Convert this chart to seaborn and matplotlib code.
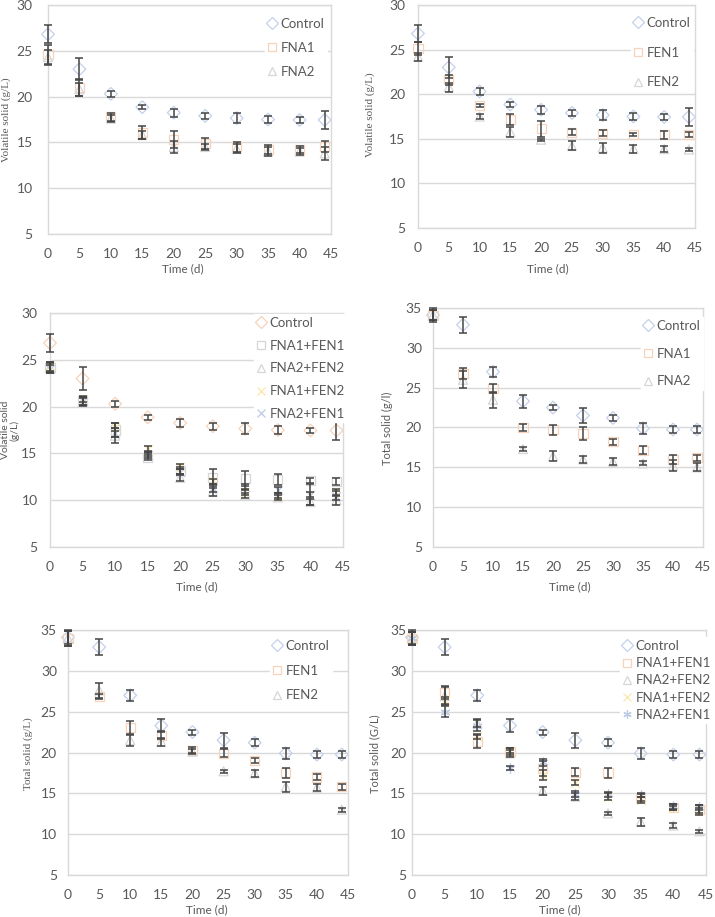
import matplotlib
matplotlib.use("Agg")
import matplotlib.pyplot as plt
import seaborn as sns
import pandas as pd
from matplotlib.lines import Line2D

# ---------------- data ----------------
DAYS = [0, 5, 10, 15, 20, 25, 30, 35, 40, 44]
X_TICKS = [0, 5, 10, 15, 20, 25, 30, 35, 40, 45]
VS_TICKS = [5, 10, 15, 20, 25, 30]
TS_TICKS = [5, 10, 15, 20, 25, 30, 35]

# Volatile solid (g/L)
vs_control = [26.8, 23.0, 20.3, 18.85, 18.25, 17.9, 17.65, 17.5, 17.45, 17.45]
vs_control_err = [1.0, 1.2, 0.35, 0.25, 0.45, 0.35, 0.55, 0.4, 0.3, 1.0]
vs_fna1 = [24.6, 21.0, 17.8, 16.1, 15.3, 14.9, 14.5, 14.2, 14.2, 14.6]
vs_fna1_err = [1.0, 0.9, 0.45, 0.7, 0.9, 0.6, 0.5, 0.5, 0.4, 0.6]
vs_fna2 = [24.3, 20.8, 17.6, 15.8, 14.5, 14.5, 14.3, 14.0, 14.0, 13.8]
vs_fna2_err = [0.8, 0.7, 0.4, 0.4, 0.7, 0.3, 0.5, 0.5, 0.4, 0.7]
vs_fen1 = [25.1, 21.6, 18.75, 17.15, 16.1, 15.75, 15.65, 15.45, 15.45, 15.45]
vs_fen1_err = [0.7, 0.6, 0.2, 0.6, 0.9, 0.3, 0.3, 0.15, 0.45, 0.3]
vs_fen2 = [24.2, 20.8, 17.5, 15.75, 14.9, 14.2, 14.0, 13.9, 13.85, 13.8]
vs_fen2_err = [0.45, 0.5, 0.3, 0.55, 0.1, 0.5, 0.55, 0.45, 0.3, 0.2]
vs_fna1_fen1 = [24.2, 20.6, 17.5, 14.6, 13.2, 12.4, 12.3, 12.2, 12.1, 12.0]
vs_fna1_fen1_err = [0.6, 0.4, 0.7, 0.3, 0.4, 0.9, 0.8, 0.6, 0.25, 0.4]
vs_fna2_fen2 = [24.2, 20.5, 16.9, 15.0, 12.4, 10.9, 10.5, 10.3, 9.8, 10.0]
vs_fna2_fen2_err = [0.5, 0.4, 0.8, 0.3, 0.4, 0.4, 0.3, 0.3, 0.3, 0.5]
vs_fna1_fen2 = [24.3, 20.8, 17.8, 15.5, 13.6, 12.0, 10.9, 10.5, 10.6, 10.9]
vs_fna1_fen2_err = [0.5, 0.3, 0.4, 0.3, 0.3, 0.3, 0.3, 0.3, 0.3, 0.3]
vs_fna2_fen1 = [24.0, 20.6, 17.2, 14.8, 13.0, 11.3, 11.4, 11.1, 10.6, 10.5]
vs_fna2_fen1_err = [0.4, 0.4, 0.5, 0.3, 0.3, 0.4, 0.3, 0.3, 1.1, 0.5]

# Total solid (g/L)
ts_control = [34.1, 32.9, 27.0, 23.3, 22.5, 21.5, 21.2, 19.9, 19.75, 19.75]
ts_control_err = [0.85, 1.0, 0.65, 0.8, 0.3, 0.9, 0.4, 0.7, 0.4, 0.4]
ts_fna1 = [34.1, 26.8, 24.9, 20.0, 19.7, 19.2, 18.2, 17.15, 16.0, 16.2]
ts_fna1_err = [0.6, 0.7, 0.6, 0.4, 0.6, 0.8, 0.4, 0.5, 0.6, 0.4]
ts_fna2 = [34.1, 26.0, 23.5, 17.3, 16.4, 16.0, 15.7, 15.5, 15.2, 15.0]
ts_fna2_err = [0.6, 1.1, 1.0, 0.3, 0.6, 0.4, 0.45, 0.25, 0.7, 0.5]
ts_fen1 = [34.0, 26.9, 23.1, 22.1, 20.3, 19.9, 19.0, 17.5, 17.0, 15.8]
ts_fen1_err = [0.9, 0.3, 0.8, 0.5, 0.35, 0.5, 0.3, 0.6, 0.4, 0.4]
ts_fen2 = [34.0, 27.6, 21.5, 21.3, 20.1, 17.7, 17.45, 15.8, 15.7, 13.0]
ts_fen2_err = [0.9, 0.9, 0.7, 0.5, 0.3, 0.2, 0.4, 0.6, 0.4, 0.25]
ts_fna1_fen1 = [34.0, 27.3, 21.3, 20.1, 18.0, 17.6, 17.5, 14.5, 13.3, 13.0]
ts_fna1_fen1_err = [0.8, 0.8, 0.8, 0.4, 0.9, 0.5, 0.6, 0.4, 0.4, 0.6]
ts_fna2_fen2 = [34.0, 26.9, 23.6, 19.9, 15.3, 14.6, 12.55, 11.5, 11.05, 10.35]
ts_fna2_fen2_err = [0.8, 1.1, 0.5, 0.4, 0.5, 0.4, 0.2, 0.5, 0.35, 0.2]
ts_fna1_fen2 = [34.0, 26.4, 22.0, 20.2, 17.2, 16.3, 14.6, 14.2, 13.2, 12.9]
ts_fna1_fen2_err = [0.8, 0.4, 0.3, 0.3, 0.6, 0.3, 0.4, 0.4, 0.3, 0.3]
ts_fna2_fen1 = [34.0, 25.0, 23.3, 18.1, 18.8, 14.9, 14.9, 14.8, 13.4, 13.3]
ts_fna2_fen1_err = [0.8, 0.7, 0.7, 0.3, 0.4, 0.4, 0.3, 0.3, 0.3, 0.3]

# ---------------- styling ----------------
PALE_BLUE = "#c4d1ea"
PALE_ORANGE = "#f7d3bb"
PALE_GRAY = "#d6d6d6"
PALE_YELLOW = "#fce6a8"
PALE_BLUE2 = "#bccae4"
TXT = "#595959"
ERR = "#454545"
GRID = "#d9d9d9"

sns.set_style("white")
plt.rcParams["font.family"] = ["Lato", "DejaVu Sans"]

W, H = 715, 917
fig = plt.figure(figsize=(W / 100, H / 100), dpi=100)


def fx(px):
    return px / W


def fy(py):
    return 1 - py / H


panels = [
    dict(box=(48, 5, 331, 234), ylim=(5, 30), yticks=VS_TICKS,
         ylabel="Volatile solid (g/L)", yl_font="serif", yl_xy=(6, 120),
         xl_xy=(183, 269), ypad=11, yl_fs=8,
         series=[("Control", vs_control, vs_control_err, "D", PALE_BLUE),
                 ("FNA1", vs_fna1, vs_fna1_err, "s", PALE_ORANGE),
                 ("FNA2", vs_fna2, vs_fna2_err, "^", PALE_GRAY)],
         leg=(272, 22), lsp=0.89),
    dict(box=(418, 5, 695, 228), ylim=(5, 30), yticks=VS_TICKS,
         ylabel="Volatile solid (g/L)", yl_font="serif", yl_xy=(370, 115),
         xl_xy=(548, 269), ypad=9, yl_fs=8,
         series=[("Control", vs_control, vs_control_err, "D", PALE_BLUE),
                 ("FEN1", vs_fen1, vs_fen1_err, "s", PALE_ORANGE),
                 ("FEN2", vs_fen2, vs_fen2_err, "^", PALE_GRAY)],
         leg=(638, 21), lsp=1.34),
    dict(box=(50, 313, 343, 547), ylim=(5, 30), yticks=VS_TICKS,
         ylabel="Volatile solid\n(g/L)", yl_font="sans", yl_xy=(10.5, 430),
         xl_xy=(197, 587), ypad=9, yl_fs=7.5,
         series=[("Control", vs_control, vs_control_err, "D", PALE_ORANGE),
                 ("FNA1+FEN1", vs_fna1_fen1, vs_fna1_fen1_err, "s", PALE_GRAY),
                 ("FNA2+FEN2", vs_fna2_fen2, vs_fna2_fen2_err, "^", PALE_GRAY),
                 ("FNA1+FEN2", vs_fna1_fen2, vs_fna1_fen2_err, "x", PALE_YELLOW),
                 ("FNA2+FEN1", vs_fna2_fen1, vs_fna2_fen1_err, "x", PALE_BLUE2)],
         leg=(261, 321), lsp=0.81),
    dict(box=(433, 308, 703, 547), ylim=(5, 35), yticks=TS_TICKS,
         ylabel="Total solid (g/l)", yl_font="sans", yl_xy=(387, 428),
         xl_xy=(570, 587), ypad=8, yl_fs=8,
         series=[("Control", ts_control, ts_control_err, "D", PALE_BLUE),
                 ("FNA1", ts_fna1, ts_fna1_err, "s", PALE_ORANGE),
                 ("FNA2", ts_fna2, ts_fna2_err, "^", PALE_GRAY)],
         leg=(648, 324), lsp=1.19),
    dict(box=(68, 630, 348, 875), ylim=(5, 35), yticks=TS_TICKS,
         ylabel="Total solid (g/L)", yl_font="serif", yl_xy=(28, 754),
         xl_xy=(207, 910), ypad=8, yl_fs=8,
         series=[("Control", ts_control, ts_control_err, "D", PALE_BLUE),
                 ("FEN1", ts_fen1, ts_fen1_err, "s", PALE_ORANGE),
                 ("FEN2", ts_fen2, ts_fen2_err, "^", PALE_GRAY)],
         leg=(277, 644), lsp=0.96),
    dict(box=(412, 630, 706, 875), ylim=(5, 35), yticks=TS_TICKS,
         ylabel="Total solid (G/L)", yl_font="sans", yl_xy=(375, 754),
         xl_xy=(560, 910), ypad=4, yl_fs=8,
         series=[("Control", ts_control, ts_control_err, "D", PALE_BLUE),
                 ("FNA1+FEN1", ts_fna1_fen1, ts_fna1_fen1_err, "s", PALE_ORANGE),
                 ("FNA2+FEN2", ts_fna2_fen2, ts_fna2_fen2_err, "^", PALE_GRAY),
                 ("FNA1+FEN2", ts_fna1_fen2, ts_fna1_fen2_err, "x", PALE_YELLOW),
                 ("FNA2+FEN1", ts_fna2_fen1, ts_fna2_fen1_err, (6, 2, 0), PALE_BLUE2)],
         leg=(627, 644), lsp=0.39),
]

LEG_FS = 9.5
for p in panels:
    l, t, r, b = p["box"]
    ax = fig.add_axes([fx(l), fy(b), fx(r - l), (b - t) / H])
    handles = []
    for name, vals, errs, mk, col in p["series"]:
        df = pd.DataFrame({"day": DAYS, "value": vals})
        sns.scatterplot(data=df, x="day", y="value", marker=mk, s=42,
                        color=col, ax=ax, zorder=2, clip_on=False, legend=False)
        coll = ax.collections[-1]
        if mk in ("D", "s", "^"):
            coll.set_facecolor("none")
        coll.set_edgecolor(col)
        coll.set_linewidth(0.9)
        ax.errorbar(DAYS, vals, yerr=errs, fmt="none", ecolor=ERR,
                    elinewidth=1.1, capsize=3, capthick=1.1, zorder=3,
                    clip_on=False)
        handles.append(Line2D([], [], ls="", marker=mk, markersize=6,
                              markerfacecolor="none", markeredgecolor=col,
                              markeredgewidth=0.9, label=name))
    ax.set_xlim(0, 45)
    ax.set_ylim(*p["ylim"])
    ax.set_xticks(X_TICKS)
    ax.set_yticks(p["yticks"])
    ax.tick_params(axis="both", length=0, labelsize=10, labelcolor=TXT)
    ax.tick_params(axis="x", pad=10)
    ax.tick_params(axis="y", pad=p["ypad"])
    ax.yaxis.grid(True, color=GRID, lw=1.0, zorder=0)
    ax.xaxis.grid(False)
    ax.set_axisbelow(True)
    for sp in ax.spines.values():
        sp.set_color(GRID)
        sp.set_linewidth(1.0)
    ax.set_xlabel("")
    ax.set_ylabel("")
    # axis titles
    xx, xy = p["xl_xy"]
    fig.text(fx(xx), fy(xy), "Time (d)", ha="center", va="center",
             fontsize=8.5, color=TXT)
    yx, yy = p["yl_xy"]
    if p["yl_font"] == "serif":
        fig.text(fx(yx), fy(yy), p["ylabel"], ha="center", va="center",
                 rotation=90, fontsize=p["yl_fs"], color=TXT,
                 family=["Liberation Serif", "DejaVu Serif"])
    else:
        fig.text(fx(yx), fy(yy), p["ylabel"], ha="center", va="center",
                 rotation=90, fontsize=p["yl_fs"], color=TXT, linespacing=0.95)
    # legend
    mx, my = p["leg"]
    fs_px = LEG_FS * 100 / 72
    bx = mx - 0.2 * fs_px - 0.3 * fs_px
    by = my - 0.8 * fs_px + 4
    leg = ax.legend(handles=handles, loc="upper left",
                    bbox_to_anchor=(fx(bx), fy(by)),
                    bbox_transform=fig.transFigure,
                    fontsize=LEG_FS, frameon=True, fancybox=False,
                    framealpha=1, facecolor="white", edgecolor="white",
                    borderpad=0.2, borderaxespad=0, handlelength=0.6,
                    handletextpad=0.35, labelspacing=p["lsp"], labelcolor=TXT)
    leg.set_zorder(4)

fig.savefig("out.png", dpi=100)
